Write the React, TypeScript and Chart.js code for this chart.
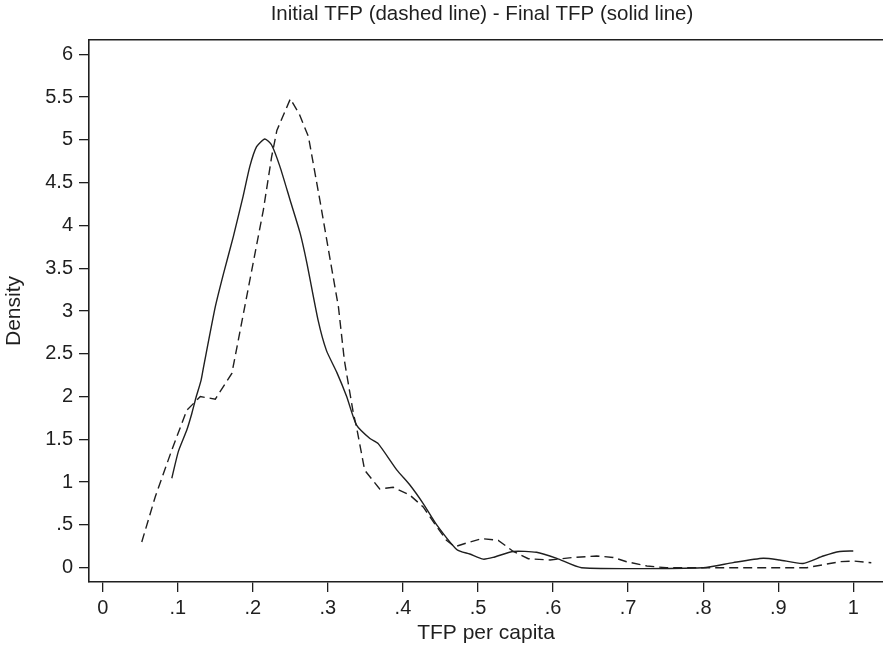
import React, { useEffect, useRef } from "react";
import { Chart, registerables } from "chart.js";

Chart.register(...registerables);

// Initial TFP (dashed line)
const initialX = [0.052, 0.070, 0.092, 0.112, 0.130, 0.150, 0.172, 0.178, 0.196, 0.214, 0.225, 0.232, 0.250, 0.262, 0.267, 0.274, 0.290, 0.303, 0.314, 0.322, 0.334, 0.338, 0.349, 0.369, 0.387, 0.409, 0.427, 0.445, 0.458, 0.469, 0.485, 0.505, 0.527, 0.547, 0.567, 0.596, 0.627, 0.658, 0.680, 0.698, 0.725, 0.751, 0.938, 0.982, 1.000, 1.024];
const initialY = [0.30, 0.83, 1.375, 1.84, 2.00, 1.97, 2.27, 2.54, 3.36, 4.18, 4.80, 5.11, 5.48, 5.30, 5.19, 5.04, 4.26, 3.60, 3.05, 2.42, 1.80, 1.65, 1.14, 0.92, 0.94, 0.85, 0.71, 0.48, 0.32, 0.245, 0.29, 0.34, 0.32, 0.19, 0.105, 0.09, 0.12, 0.137, 0.12, 0.07, 0.02, 0.0, 0.0, 0.07, 0.078, 0.058];

// Final TFP (solid line)
const finalX = [0.092, 0.1008, 0.112, 0.1186, 0.124, 0.131, 0.134, 0.150, 0.161, 0.174, 0.187, 0.196, 0.205, 0.216, 0.225, 0.236, 0.2495, 0.263, 0.272, 0.287, 0.298, 0.312, 0.325, 0.338, 0.356, 0.367, 0.392, 0.409, 0.427, 0.445, 0.472, 0.489, 0.507, 0.520, 0.547, 0.578, 0.605, 0.638, 0.800, 0.840, 0.880, 0.902, 0.933, 0.960, 0.982, 1.000];
const finalY = [1.045, 1.36, 1.61, 1.80, 1.98, 2.19, 2.33, 3.05, 3.44, 3.87, 4.34, 4.69, 4.92, 5.01, 4.94, 4.69, 4.30, 3.91, 3.56, 2.89, 2.54, 2.28, 2.00, 1.67, 1.51, 1.45, 1.14, 0.97, 0.75, 0.50, 0.21, 0.16, 0.10, 0.12, 0.19, 0.18, 0.11, 0.0, 0.0, 0.06, 0.11, 0.09, 0.05, 0.137, 0.19, 0.195];

const xTickValues = [0, 0.1, 0.2, 0.3, 0.4, 0.5, 0.6, 0.7, 0.8, 0.9, 1];
const xTickLabels = ["0", ".1", ".2", ".3", ".4", ".5", ".6", ".7", ".8", ".9", "1"];
const yTickValues = [0, 0.5, 1, 1.5, 2, 2.5, 3, 3.5, 4, 4.5, 5, 5.5, 6];
const yTickLabels = ["0", ".5", "1", "1.5", "2", "2.5", "3", "3.5", "4", "4.5", "5", "5.5", "6"];

const titleText = "Initial TFP (dashed line) - Final TFP (solid line)";
const xTitle = "TFP per capita";
const yTitle = "Density";

const FONT = "'Liberation Sans', Arial, Helvetica, sans-serif";
const INK = "#1f1f1f";

export default function App() {
  const ref = useRef<HTMLCanvasElement | null>(null);

  useEffect(() => {
    document.body.style.margin = "0";
    const canvas = ref.current;
    if (!canvas) return;

    const titlePlugin = {
      id: "topTitle",
      afterDraw(chart: any) {
        const ctx = chart.ctx;
        ctx.save();
        ctx.fillStyle = INK;
        ctx.font = `20.5px ${FONT}`;
        ctx.textAlign = "center";
        ctx.textBaseline = "alphabetic";
        ctx.fillText(titleText, 482, 19.5);
        ctx.restore();
      },
    };

    const chart = new Chart(canvas, {
      type: "scatter",
      data: {
        datasets: [
          {
            label: "Initial TFP",
            data: initialX.map((x, i) => ({ x, y: initialY[i] })),
            showLine: true,
            borderColor: INK,
            borderWidth: 1.4,
            borderDash: [9, 5],
            pointRadius: 0,
            tension: 0,
            fill: false,
          },
          {
            label: "Final TFP",
            data: finalX.map((x, i) => ({ x, y: finalY[i] })),
            showLine: true,
            borderColor: INK,
            borderWidth: 1.4,
            pointRadius: 0,
            tension: 0.2,
            fill: false,
          },
        ],
      },
      options: {
        responsive: false,
        animation: false,
        layout: { padding: { top: 40, right: 0, left: 0, bottom: 0 } },
        plugins: {
          legend: { display: false },
          tooltip: { enabled: false },
          title: { display: false },
        },
        scales: {
          x: {
            type: "linear",
            position: "bottom",
            min: -0.0183,
            max: 1.0396,
            afterBuildTicks: (s: any) => {
              s.ticks = xTickValues.map((v) => ({ value: v }));
            },
            afterFit: (s: any) => {
              s.height = 72;
            },
            ticks: {
              autoSkip: false,
              maxRotation: 0,
              padding: 4,
              color: INK,
              font: { family: FONT, size: 20 },
              callback: (_v: any, i: number) => xTickLabels[i],
            },
            grid: {
              display: true,
              drawOnChartArea: false,
              drawTicks: true,
              tickLength: 10,
              color: INK,
              lineWidth: 1.3,
            },
            border: { display: true, color: INK, width: 1.6 },
            title: {
              display: true,
              text: xTitle,
              color: INK,
              font: { family: FONT, size: 21 },
              padding: { top: 0, bottom: 8 },
            },
          },
          x2: {
            type: "linear",
            position: "top",
            min: -0.0183,
            max: 1.0396,
            afterFit: (s: any) => {
              s.height = 0;
            },
            ticks: { display: false },
            grid: { display: false },
            border: { display: true, color: INK, width: 1.6 },
          },
          y: {
            type: "linear",
            min: -0.167,
            max: 6.167,
            afterBuildTicks: (s: any) => {
              s.ticks = yTickValues.map((v) => ({ value: v }));
            },
            afterFit: (s: any) => {
              s.width = 89;
            },
            ticks: {
              autoSkip: false,
              padding: 6,
              color: INK,
              font: { family: FONT, size: 20 },
              callback: (_v: any, i: number) => yTickLabels[i],
            },
            grid: {
              display: true,
              drawOnChartArea: false,
              drawTicks: true,
              tickLength: 10,
              color: INK,
              lineWidth: 1.3,
            },
            border: { display: true, color: INK, width: 1.6 },
            title: {
              display: true,
              text: yTitle,
              color: INK,
              font: { family: FONT, size: 21 },
              padding: { top: 2, bottom: 0 },
            },
          },
        },
      },
      plugins: [titlePlugin],
    });

    return () => chart.destroy();
  }, []);

  return (
    <div style={{ position: "absolute", left: 0, top: 0, width: 883, height: 654, background: "#fff" }}>
      <canvas ref={ref} width={883} height={654} style={{ display: "block" }} />
    </div>
  );
}
